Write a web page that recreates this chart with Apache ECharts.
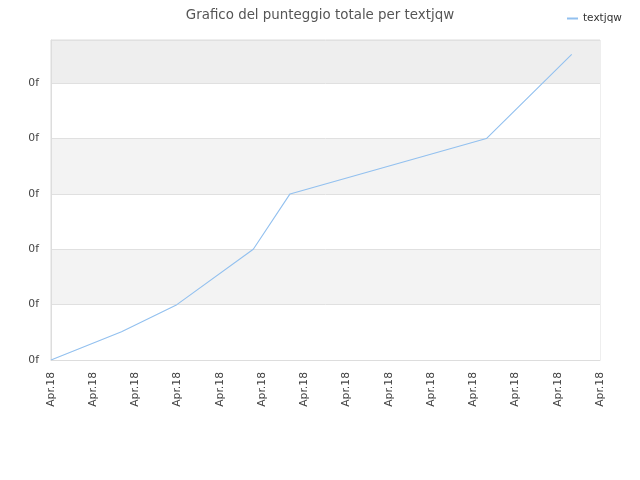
<!DOCTYPE html>
<html>
<head>
<meta charset="utf-8">
<script src="https://cdn.jsdelivr.net/npm/echarts@6/dist/echarts.min.js"></script>
<style>html,body{margin:0;padding:0;background:#fff;}#c{width:640px;height:480px;}</style>
</head>
<body>
<div id="c"></div>
<script>
var titleText = 'Grafico del punteggio totale per textjqw';
var seriesName = 'textjqw';
var xTickLabel = 'Apr.18';
var yTickLabel = '0f';
var xValues = [0, 1.67, 2.98, 4.79, 5.66, 10.31, 12.33];
var yValues = [0, 0.51, 1, 2, 3, 4, 5.52];
var xMin = 0, xMax = 13, xStep = 1;
var yMin = 0, yMax = 5.78, yStep = 1;

var points = xValues.map(function (x, i) { return [x, yValues[i]]; });
var font = 'DejaVu Sans';
var chart = echarts.init(document.getElementById('c'));
chart.setOption({
  animation: false,
  backgroundColor: '#fff',
  title: {
    text: titleText, left: 'center', top: 4,
    textStyle: { fontFamily: font, fontSize: 13.4, fontWeight: 'normal', color: '#555' }
  },
  legend: {
    left: 562, top: 8, icon: 'rect', itemWidth: 11, itemHeight: 2, itemGap: 8,
    textStyle: { fontFamily: font, fontSize: 10.5, color: '#333' },
    data: [seriesName]
  },
  grid: { left: 51, right: 40, top: 40, bottom: 120, show: true, borderColor: '#dddddd', borderWidth: 1 },
  xAxis: {
    type: 'value', min: xMin, max: xMax, interval: xStep,
    axisLine: { show: true, lineStyle: { color: '#dddddd' } },
    axisTick: { show: false },
    splitLine: { show: false },
    axisLabel: {
      rotate: 90, margin: 12, color: '#444', fontFamily: font, fontSize: 10.8,
      formatter: function () { return xTickLabel; }
    }
  },
  yAxis: {
    type: 'value', min: yMin, max: yMax, interval: yStep,
    axisLine: { show: true, lineStyle: { color: '#dddddd' } },
    axisTick: { show: false },
    splitLine: { show: true, lineStyle: { color: '#e0e0e0' } },
    splitArea: { show: true, areaStyle: { color: ['#ffffff', '#f3f3f3', '#ffffff', '#f3f3f3', '#ffffff', '#eeeeee'] } },
    axisLabel: {
      margin: 12, color: '#444', fontFamily: font, fontSize: 10.8, showMaxLabel: false,
      formatter: function () { return yTickLabel; }
    }
  },
  series: [{
    name: seriesName, type: 'line', data: points, symbol: 'none',
    lineStyle: { width: 1.1, color: '#92c0ef' }, itemStyle: { color: '#92c0ef' }
  }]
});
</script>
</body>
</html>
